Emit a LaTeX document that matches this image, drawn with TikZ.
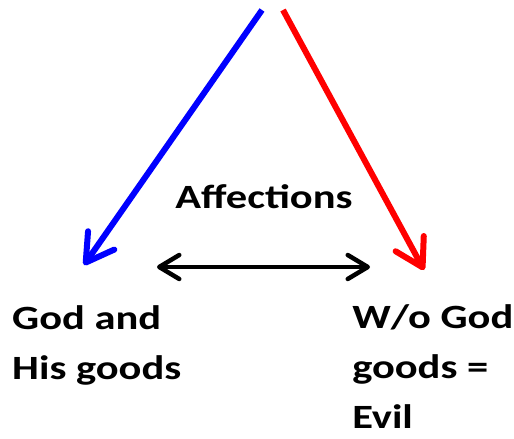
\documentclass[tikz,border=0pt]{standalone}
\usepackage{fontspec}
\setmainfont{Carlito}
\usetikzlibrary{arrows.meta}

\begin{document}
\begin{tikzpicture}[x=1pt,y=-1pt,
  bigarrow/.style={line width=6pt,-{Straight Barb[length=27pt,width=32pt,line cap=round,line join=round]}},
  linkarrow/.style={line width=4.5pt,{Straight Barb[length=20pt,width=24pt,line cap=round,line join=round]}-{Straight Barb[length=20pt,width=24pt,line cap=round,line join=round]}},
  label/.style={font=\fontsize{34}{50}\selectfont\bfseries,inner sep=0pt,align=left,xscale=1.25,transform shape}]
  \useasboundingbox (0,0) rectangle (514,439);
  \coordinate (topl) at (262,10);
  \coordinate (topr) at (283,10);
  \coordinate (godtip) at (84,265);
  \coordinate (eviltip) at (424,270);
  \coordinate (linkl) at (157,267);
  \coordinate (linkr) at (370,267);
  \draw[bigarrow,blue](topl)--(godtip);
  \draw[bigarrow,red](topr)--(eviltip);
  \draw[linkarrow,black](linkl)--(linkr);
  \node[label,anchor=base] (aff) at (264,208){Affections};
  \node[label,anchor=base west] (god) at (12,379){God and\\His goods};
  \node[label,anchor=base west] (evil) at (352,428){W/o God\\goods =\\Evil};
\end{tikzpicture}
\end{document}
